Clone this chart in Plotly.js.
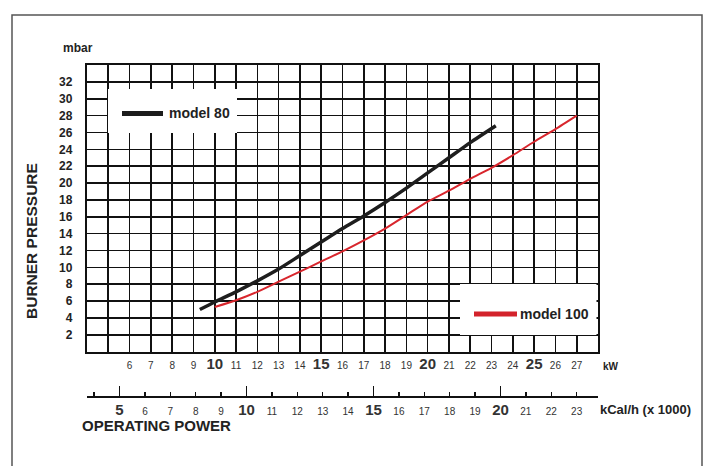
<!DOCTYPE html>
<html>
<head>
<meta charset="utf-8">
<script src="https://cdn.plot.ly/plotly-3.0.1.min.js"></script>
<style>html,body{margin:0;padding:0;background:#fff;}#chart{width:710px;height:466px;}</style>
</head>
<body>
<div id="chart"></div>
<script>
// ---- data ----
const model80_kW   = [9.3, 10, 11, 12, 13, 14, 15, 16, 17, 18, 19, 20, 21, 22, 23.2];
const model80_mbar = [5.0, 5.9, 7.1, 8.4, 9.8, 11.4, 13.0, 14.6, 16.1, 17.7, 19.4, 21.2, 23.0, 24.8, 26.8];
const model100_kW   = [10, 11, 12, 13, 14, 15, 16, 17, 18, 19, 20, 21, 22, 23, 24, 25, 26, 27];
const model100_mbar = [5.3, 6.1, 7.1, 8.3, 9.5, 10.7, 11.9, 13.2, 14.6, 16.2, 17.8, 19.1, 20.5, 21.8, 23.3, 24.9, 26.4, 28.0];
const kWTicks   = [5, 6, 7, 8, 9, 10, 11, 12, 13, 14, 15, 16, 17, 18, 19, 20, 21, 22, 23, 24, 25, 26, 27];
const kcalTicks = [4, 5, 6, 7, 8, 9, 10, 11, 12, 13, 14, 15, 16, 17, 18, 19, 20, 21, 22, 23];
const kcalMajor = [5, 10, 15, 20];
const mbarTicks = [2, 4, 6, 8, 10, 12, 14, 16, 18, 20, 22, 24, 26, 28, 30, 32];
const mbarThick = [8, 22, 30];

// ---- layout helpers (pixel -> paper) ----
const W = 710, H = 466, L = 87, R = 598, T = 65, MB = 40;
const PB = H - MB;
const fx = px => (px - L) / (R - L);
const fy = py => (PB - py) / (PB - T);
const FONT = '"Liberation Sans", Arial, Helvetica, sans-serif';
const bigLabel = v => (v % 5 === 0) ? '<b><span style="font-size:15px">' + v + '</span></b>' : String(v);

const kWText = kWTicks.map(v => v < 6 ? '' : bigLabel(v));
const kcalText = kcalTicks.map(v => v < 5 ? '' : bigLabel(v));

const traces = [
  {x: model100_kW, y: model100_mbar, type: 'scatter', mode: 'lines', name: 'model 100',
   line: {color: '#d8262d', width: 2, shape: 'spline', smoothing: 0.6}, showlegend: false, hoverinfo: 'skip'},
  {x: model80_kW, y: model80_mbar, type: 'scatter', mode: 'lines', name: 'model 80',
   line: {color: '#1e1e1e', width: 3.5, shape: 'spline', smoothing: 0.6}, showlegend: false, hoverinfo: 'skip'},
  {x: [null], y: [null], xaxis: 'x2', yaxis: 'y', showlegend: false, hoverinfo: 'skip'},
  {x: [null], y: [null], xaxis: 'x3', yaxis: 'y', showlegend: false, hoverinfo: 'skip'},
  {x: [null], y: [null], xaxis: 'x', yaxis: 'y2', showlegend: false, hoverinfo: 'skip'}
];

const yBottom = fy(351.7);
const kcalPos = fy(396);

const layout = {
  width: W, height: H,
  margin: {l: L, r: W - R, t: T, b: MB, pad: 0},
  paper_bgcolor: '#fff', plot_bgcolor: '#fff',
  font: {family: FONT, color: '#222'},
  showlegend: false,
  xaxis: {
    range: [4, 28], domain: [0, 1], anchor: 'y',
    tickmode: 'array', tickvals: kWTicks, ticktext: kWText,
    ticks: '', showgrid: true, gridcolor: '#111', gridwidth: 1.6,
    showline: true, linecolor: '#111', linewidth: 2.2, mirror: true,
    zeroline: false, tickfont: {size: 10, color: '#333', family: FONT},
    ticklabelstandoff: 3
  },
  xaxis2: {
    overlaying: 'x', anchor: 'free', position: kcalPos, side: 'bottom',
    range: [3.72, 23.84],
    tickmode: 'array', tickvals: kcalTicks, ticktext: kcalText,
    ticks: 'inside', ticklen: 4, tickwidth: 1.5, tickcolor: '#111',
    showline: true, linecolor: '#111', linewidth: 1.5,
    showgrid: false, zeroline: false,
    tickfont: {size: 10, color: '#333', family: FONT},
    ticklabelstandoff: 5
  },
  xaxis3: {
    overlaying: 'x', anchor: 'free', position: kcalPos, side: 'bottom',
    range: [3.72, 23.84],
    tickmode: 'array', tickvals: kcalMajor,
    ticks: 'inside', ticklen: 10, tickwidth: 1.6, tickcolor: '#111',
    showticklabels: false, showline: false, showgrid: false, zeroline: false
  },
  yaxis: {
    range: [0, 34], domain: [yBottom, 1], anchor: 'x',
    tickmode: 'array', tickvals: mbarTicks,
    ticks: '', showgrid: true, gridcolor: '#111', gridwidth: 1.6,
    showline: true, linecolor: '#111', linewidth: 2.2, mirror: true,
    zeroline: false,
    tickfont: {size: 12, color: '#222', family: FONT, weight: 'bold'},
    ticklabelstandoff: 10
  },
  yaxis2: {
    overlaying: 'y', anchor: 'x', range: [0, 34],
    tickmode: 'array', tickvals: mbarThick,
    showticklabels: false, ticks: '', showgrid: true, gridcolor: '#111', gridwidth: 2.2,
    showline: false, zeroline: false
  },
  shapes: [
    {type: 'rect', xref: 'paper', yref: 'paper', x0: fx(12), x1: fx(702), y0: fy(480), y1: fy(15),
     line: {color: '#555', width: 1.5}, fillcolor: 'rgba(0,0,0,0)', layer: 'below'},
    {type: 'rect', xref: 'paper', yref: 'paper', x0: fx(108), x1: fx(237), y0: fy(133), y1: fy(89),
     line: {width: 0}, fillcolor: '#fff', layer: 'above'},
    {type: 'rect', xref: 'paper', yref: 'paper', x0: fx(460), x1: fx(596.5), y0: fy(335), y1: fy(284),
     line: {width: 0}, fillcolor: '#fff', layer: 'above'},
    {type: 'line', xref: 'paper', yref: 'paper', x0: fx(122), x1: fx(163), y0: fy(113.5), y1: fy(113.5),
     line: {color: '#1c1c1c', width: 5}, layer: 'above'},
    {type: 'line', xref: 'paper', yref: 'paper', x0: fx(474), x1: fx(517), y0: fy(314), y1: fy(314),
     line: {color: '#d3232b', width: 5}, layer: 'above'}
  ],
  annotations: [
    {xref: 'paper', yref: 'paper', x: fx(167), y: fy(113), xanchor: 'left', yanchor: 'middle',
     text: '<b>model 80</b>', showarrow: false, font: {size: 14, color: '#222', family: FONT}},
    {xref: 'paper', yref: 'paper', x: fx(518), y: fy(314), xanchor: 'left', yanchor: 'middle',
     text: '<b>model 100</b>', showarrow: false, font: {size: 14, color: '#222', family: FONT}},
    {xref: 'paper', yref: 'paper', x: fx(78), y: fy(48), xanchor: 'center', yanchor: 'middle',
     text: '<b>mbar</b>', showarrow: false, font: {size: 12, color: '#222', family: FONT}},
    {xref: 'paper', yref: 'paper', x: fx(31), y: fy(241), xanchor: 'center', yanchor: 'middle',
     text: '<b>BURNER PRESSURE</b>', textangle: -90, showarrow: false, font: {size: 15.5, color: '#222', family: FONT}},
    {xref: 'paper', yref: 'paper', x: fx(601), y: fy(366), xanchor: 'left', yanchor: 'middle',
     text: '<b>kW</b>', showarrow: false, font: {size: 10, color: '#222', family: FONT}},
    {xref: 'paper', yref: 'paper', x: fx(598), y: fy(409), xanchor: 'left', yanchor: 'middle',
     text: '<b>kCal/h (x 1000)</b>', showarrow: false, font: {size: 13, color: '#222', family: FONT}},
    {xref: 'paper', yref: 'paper', x: fx(80), y: fy(425), xanchor: 'left', yanchor: 'middle',
     text: '<b>OPERATING POWER</b>', showarrow: false, font: {size: 15, color: '#222', family: FONT}}
  ]
};

Plotly.newPlot('chart', traces, layout, {staticPlot: true, displayModeBar: false});
</script>
</body>
</html>
